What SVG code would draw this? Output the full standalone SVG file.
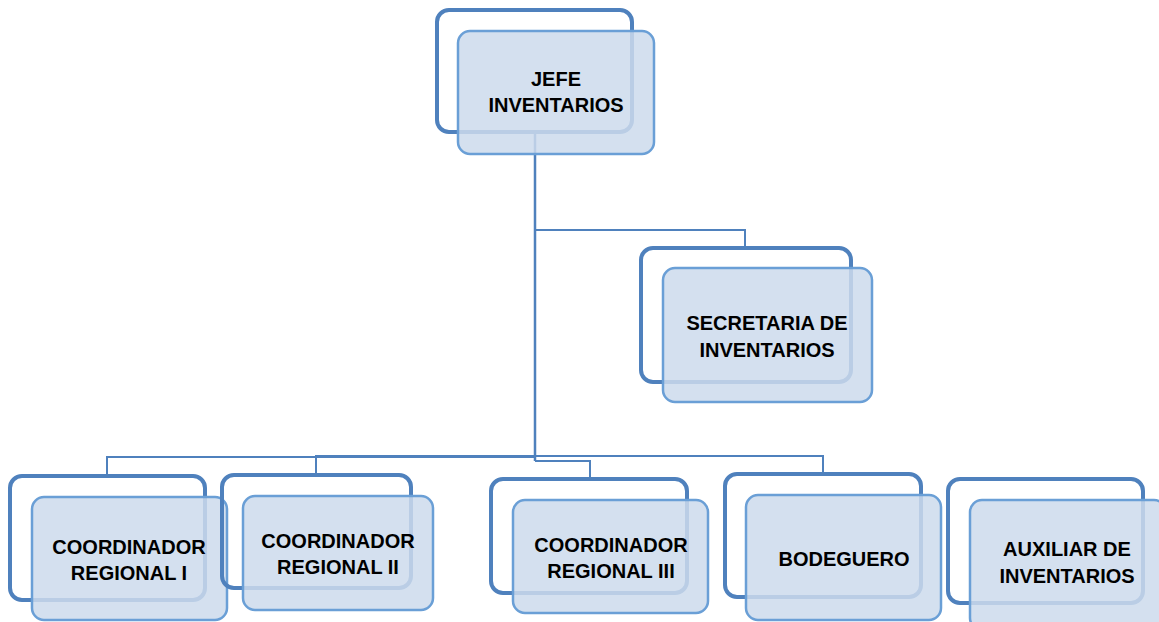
<svg xmlns="http://www.w3.org/2000/svg" width="1159" height="622" viewBox="0 0 1159 622">
<style>
.back{fill:none;stroke:#4f81bd;stroke-width:4}
.front{fill:#cddbec;fill-opacity:0.85;stroke:#6a9fd6;stroke-width:2.5}
.lbl{font-family:"Liberation Sans",Arial,sans-serif;font-weight:bold;font-size:20px;fill:#000;text-anchor:middle}
.conn{fill:none;stroke:#4f81bd;stroke-width:2}
</style>
<g id="connectors">
<path class="conn" d="M535,133 V461" style="stroke-width:2.5"/>
<path class="conn" d="M535,230 H745 V248"/>
<path class="conn" d="M107,476 V457 H535"/>
<path class="conn" d="M316,475 V456 H535"/>
<path class="conn" d="M590,478 V461 H535"/>
<path class="conn" d="M823,474 V456 H535"/>
</g>
<g id="jefe">
<rect class="back" x="437" y="10" width="195" height="122" rx="12"/>
<rect class="front" x="458" y="31" width="196" height="123" rx="12"/>
<text class="lbl" x="556" y="86">JEFE</text>
<text class="lbl" x="556" y="112">INVENTARIOS</text>
</g>
<g id="secretaria">
<rect class="back" x="641" y="248" width="210" height="134" rx="12"/>
<rect class="front" x="663" y="268" width="209" height="134" rx="12"/>
<text class="lbl" x="767" y="330">SECRETARIA DE</text>
<text class="lbl" x="767" y="357">INVENTARIOS</text>
</g>
<g id="coord1">
<rect class="back" x="10" y="476" width="195" height="124" rx="12"/>
<rect class="front" x="32" y="497" width="195" height="123" rx="12"/>
<text class="lbl" x="129" y="554">COORDINADOR</text>
<text class="lbl" x="129" y="580">REGIONAL I</text>
</g>
<g id="coord2">
<rect class="back" x="222" y="475" width="189" height="113" rx="12"/>
<rect class="front" x="243" y="496" width="190" height="114" rx="12"/>
<text class="lbl" x="338" y="548">COORDINADOR</text>
<text class="lbl" x="338" y="574">REGIONAL II</text>
</g>
<g id="coord3">
<rect class="back" x="491" y="479" width="196" height="114" rx="12"/>
<rect class="front" x="513" y="500" width="195" height="113" rx="12"/>
<text class="lbl" x="611" y="552">COORDINADOR</text>
<text class="lbl" x="611" y="578">REGIONAL III</text>
</g>
<g id="bodeguero">
<rect class="back" x="725" y="474" width="196" height="123" rx="12"/>
<rect class="front" x="746" y="495" width="195" height="125" rx="12"/>
<text class="lbl" x="844" y="566">BODEGUERO</text>
</g>
<g id="auxiliar">
<rect class="back" x="948" y="479" width="195" height="124" rx="12"/>
<rect class="front" x="970" y="500" width="196" height="130" rx="12"/>
<text class="lbl" x="1067" y="556">AUXILIAR DE</text>
<text class="lbl" x="1067" y="583">INVENTARIOS</text>
</g>
</svg>
